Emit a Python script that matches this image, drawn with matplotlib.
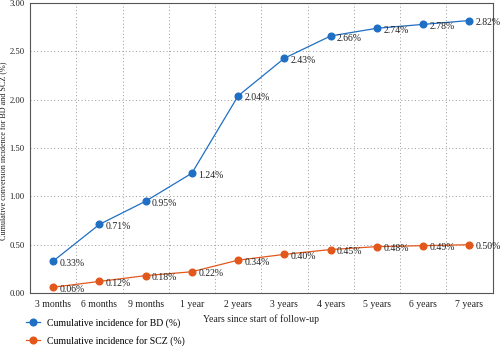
import matplotlib
matplotlib.use('Agg')
import matplotlib.pyplot as plt

plt.rcParams['font.family'] = ['Liberation Serif', 'DejaVu Serif']

# 数据
categories = ['3 months', '6 months', '9 months', '1 year', '2 years',
              '3 years', '4 years', '5 years', '6 years', '7 years']
bd = [0.33, 0.71, 0.95, 1.24, 2.04, 2.43, 2.66, 2.74, 2.78, 2.82]
scz = [0.06, 0.12, 0.18, 0.22, 0.34, 0.40, 0.45, 0.48, 0.49, 0.50]

blue = '#1f6fc4'
orange = '#e2581c'
fs = 7.0

fig = plt.figure(figsize=(5, 3.48), dpi=100)
ax = fig.add_axes([0.06, 0.158, 0.925, 0.833])

x = list(range(len(categories)))
ax.plot(x, bd, color=blue, linewidth=0.9, marker='o', markersize=4.8,
        label='Cumulative incidence for BD (%)')
ax.plot(x, scz, color=orange, linewidth=0.9, marker='o', markersize=4.8,
        label='Cumulative incidence for SCZ (%)')

for xi, v in zip(x, bd):
    ax.annotate(f'{v:.2f}%', (xi, v), xytext=(4.5, -1.5), textcoords='offset points',
                fontsize=fs, va='center', ha='left', color='#222222',
                annotation_clip=False)
for xi, v in zip(x, scz):
    ax.annotate(f'{v:.2f}%', (xi, v), xytext=(4.5, -1.5), textcoords='offset points',
                fontsize=fs, va='center', ha='left', color='#222222',
                annotation_clip=False)

ax.set_xlim(-0.5, len(categories) - 0.5)
ax.set_ylim(0, 3.0)
ax.set_xticks(x)
ax.set_xticklabels(categories)
ax.set_yticks([0, 0.5, 1.0, 1.5, 2.0, 2.5, 3.0])
ax.set_yticklabels([f'{t:.2f}' for t in [0, 0.5, 1.0, 1.5, 2.0, 2.5, 3.0]])
ax.set_xticks([i + 0.5 for i in range(len(categories) - 1)], minor=True)
ax.tick_params(axis='x', labelsize=fs, length=0, pad=5, labelcolor='#222222')
ax.tick_params(axis='y', labelsize=6.2, length=0, pad=4, labelcolor='#222222')
ax.tick_params(which='minor', length=0)

ax.grid(axis='y', which='major', linestyle=(0, (1, 2.5)), color='#999999', linewidth=0.7)
ax.grid(axis='x', which='minor', linestyle=(0, (1, 2.5)), color='#999999', linewidth=0.7)
ax.grid(axis='x', which='major', visible=False)

for s in ax.spines.values():
    s.set_color('#555555')
    s.set_linewidth(0.8)

ax.set_xlabel('Years since start of follow-up', fontsize=fs, labelpad=4, color='#222222')
ax.set_ylabel('Cumulative conversion incidence for BD and SCZ (%)', fontsize=5.9,
              color='#222222')
ax.yaxis.set_label_coords(-0.049, 0.49)

fig.legend(loc='upper left', bbox_to_anchor=(0.042, 0.1), frameon=False,
           fontsize=fs, handlelength=1.5, handletextpad=0.7, labelspacing=0.8,
           borderpad=0.0)

fig.savefig('out.png', dpi=100)
